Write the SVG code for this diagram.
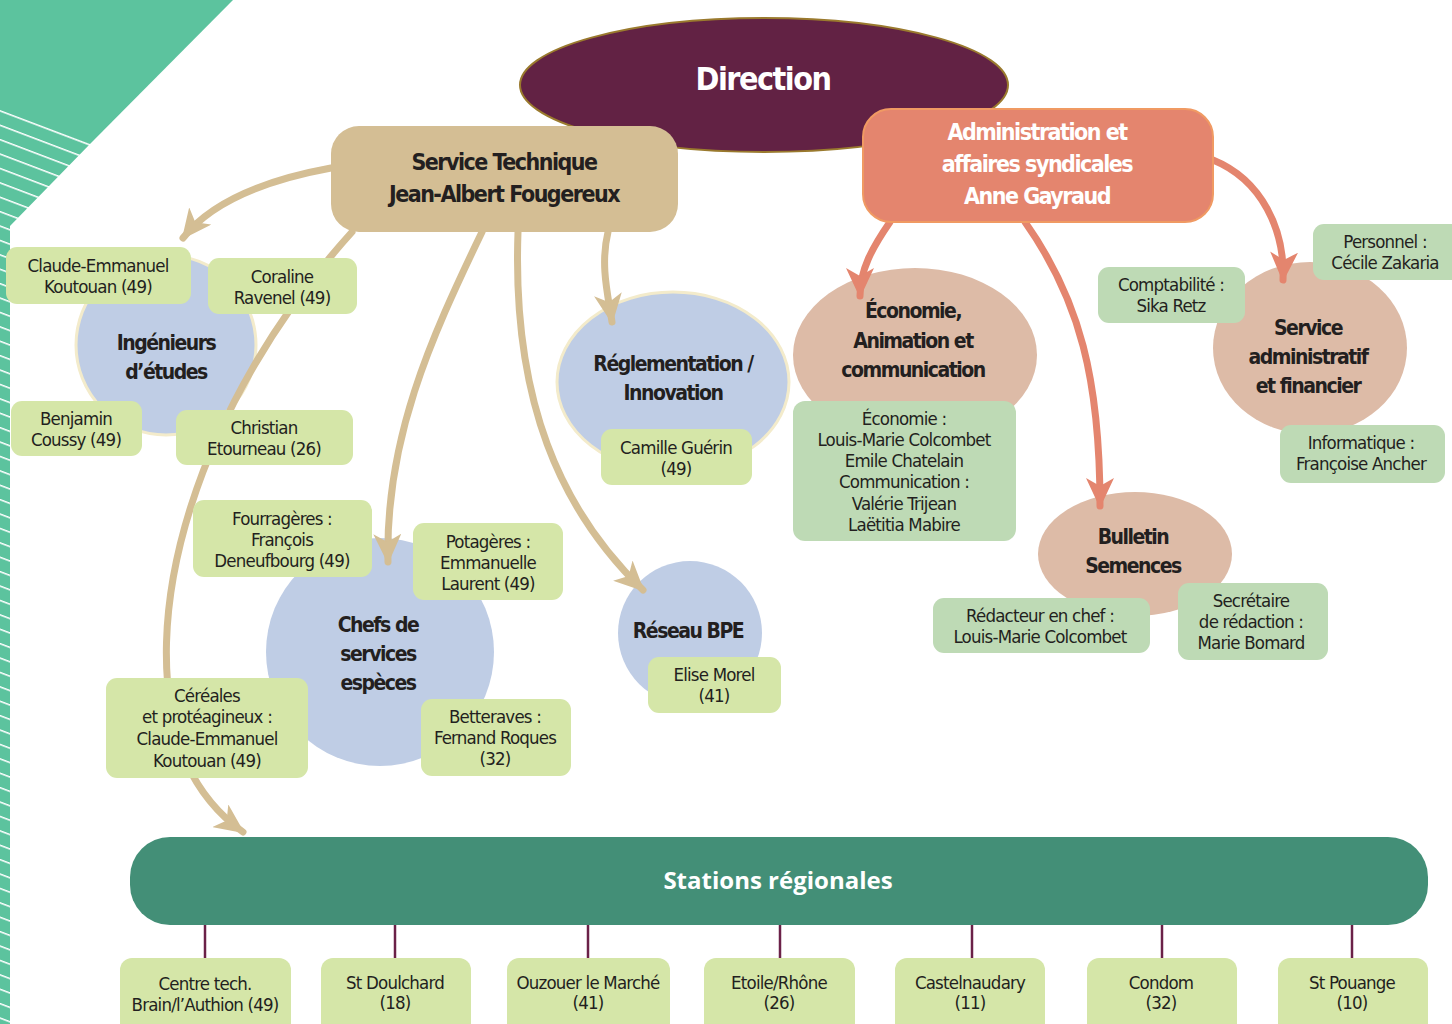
<svg xmlns="http://www.w3.org/2000/svg" width="1452" height="1024" viewBox="0 0 1452 1024">
<style>
text{font-family:'Liberation Sans Narrow','DejaVu Sans Condensed','Roboto',sans-serif;text-anchor:middle;fill:#231F20}
.lbl{font-size:18.5px;letter-spacing:-0.8px}
.ttl{font-size:21px;font-weight:bold;letter-spacing:-1.5px}
.hd{font-size:23px;font-weight:bold;letter-spacing:-1.5px}
.w{fill:#FFFFFF}
.lg{fill:#D5E6A8}
.dg{fill:#BEDAB5}
.blue{fill:#BFCDE5}
.pink{fill:#DDBBA7}
.tan{fill:none;stroke:#D4BE94;stroke-width:7;stroke-linecap:round}
.sal{fill:none;stroke:#E4856E;stroke-width:7;stroke-linecap:round}
.stn{stroke:#6B2148;stroke-width:2.5}
</style>
<defs>
<pattern id="stripes" patternUnits="userSpaceOnUse" width="200" height="14.4" patternTransform="translate(0,110) skewY(20.8)">
<rect width="200" height="14.4" fill="#5CC39E"/>
<rect width="200" height="1.6" fill="#FFFFFF"/>
</pattern>
<marker id="ah-tan" markerUnits="userSpaceOnUse" viewBox="0 0 30 28" markerWidth="30" markerHeight="28" refX="28" refY="14" orient="auto"><path d="M0,0 L30,14 L0,28 L8,14 z" fill="#D4BE94"/></marker>
<marker id="ah-sal" markerUnits="userSpaceOnUse" viewBox="0 0 30 28" markerWidth="30" markerHeight="28" refX="28" refY="14" orient="auto"><path d="M0,0 L30,14 L0,28 L8,14 z" fill="#E4856E"/></marker>
</defs>
<rect width="1452" height="1024" fill="#FFFFFF"/>
<g id="decoration">
<polygon points="0,0 233,0 90,144 0,110" fill="#5CC39E"/>
<polygon points="0,110 90,144 10,226 10,1024 0,1024" fill="url(#stripes)"/>
</g>
<g id="direction">
<ellipse cx="764" cy="85" rx="244" ry="67" fill="#622244" stroke="#9A7A2E" stroke-width="2"/>
<text x="763" y="90" class="w" style="font-size:32px;font-weight:bold;letter-spacing:-1.5px">Direction</text>
</g>
<g id="ingenieurs"><circle cx="166" cy="345" r="90" class="blue" stroke="#F3EBCB" stroke-width="3"/>
<text class="ttl" x="166" y="350">Ingénieurs</text><text class="ttl" x="166" y="379">d’études</text></g>
<g id="reglementation"><ellipse cx="673" cy="382" rx="116" ry="90" class="blue" stroke="#F3EBCB" stroke-width="3"/>
<text class="ttl" x="673" y="371">Réglementation /</text><text class="ttl" x="673" y="400">Innovation</text></g>
<g id="chefs"><circle cx="380" cy="652" r="114" class="blue"/>
<text class="ttl" x="378" y="632">Chefs de</text><text class="ttl" x="378" y="661">services</text><text class="ttl" x="378" y="690">espèces</text></g>
<g id="reseau"><circle cx="690" cy="633" r="72" class="blue"/>
<text class="ttl" x="688" y="638">Réseau BPE</text></g>
<g id="economie"><ellipse cx="915" cy="355" rx="122" ry="87" class="pink"/>
<text class="ttl" x="913" y="318">Économie,</text><text class="ttl" x="913" y="348">Animation et</text><text class="ttl" x="913" y="377">communication</text></g>
<g id="service-admin"><ellipse cx="1310" cy="348" rx="97" ry="86" class="pink"/>
<text class="ttl" x="1308" y="335">Service</text><text class="ttl" x="1308" y="364">administratif</text><text class="ttl" x="1308" y="393">et financier</text></g>
<g id="bulletin"><ellipse cx="1135" cy="554" rx="97" ry="62" class="pink"/>
<text class="ttl" x="1133" y="544">Bulletin</text><text class="ttl" x="1133" y="573">Semences</text></g>
<g id="connectors">
<path class="tan" d="M331,168 Q222,188 183,238" marker-end="url(#ah-tan)"/>
<path class="tan" d="M352,232 C200,400 130,620 185,760 Q205,805 243,832" marker-end="url(#ah-tan)"/>
<path class="tan" d="M482,232 C430,340 385,440 388,562" marker-end="url(#ah-tan)"/>
<path class="tan" d="M518,232 C512,400 560,510 643,590" marker-end="url(#ah-tan)"/>
<path class="tan" d="M608,232 C600,265 608,295 612,322" marker-end="url(#ah-tan)"/>
<path class="sal" d="M890,222 C872,248 860,270 860,296" marker-end="url(#ah-sal)"/>
<path class="sal" d="M1025,222 C1080,300 1100,380 1100,506" marker-end="url(#ah-sal)"/>
<path class="sal" d="M1213,160 C1262,180 1285,230 1283,280" marker-end="url(#ah-sal)"/>
<line class="stn" x1="205" y1="920" x2="205" y2="960"/>
<line class="stn" x1="395" y1="920" x2="395" y2="960"/>
<line class="stn" x1="588" y1="920" x2="588" y2="960"/>
<line class="stn" x1="780" y1="920" x2="780" y2="960"/>
<line class="stn" x1="972" y1="920" x2="972" y2="960"/>
<line class="stn" x1="1162" y1="920" x2="1162" y2="960"/>
<line class="stn" x1="1352" y1="920" x2="1352" y2="960"/>
</g>
<g id="service-technique"><rect x="331" y="126" width="347" height="106" rx="28" fill="#D4BE94"/>
<text class="hd" x="504" y="170">Service Technique</text><text class="hd" x="504" y="202">Jean-Albert Fougereux</text></g>
<g id="administration"><rect x="863" y="109" width="350" height="113" rx="28" fill="#E4856E" stroke="#F09A63" stroke-width="2"/>
<text class="hd w" x="1037" y="140">Administration et</text><text class="hd w" x="1037" y="172">affaires syndicales</text><text class="hd w" x="1037" y="204">Anne Gayraud</text></g>
<g id="claude"><rect x="6" y="247" width="185" height="57" rx="11" class="lg"/><text class="lbl" x="98" y="272">Claude-Emmanuel</text><text class="lbl" x="98" y="293">Koutouan (49)</text></g>
<g id="coraline"><rect x="208" y="258" width="149" height="56" rx="11" class="lg"/><text class="lbl" x="282" y="283">Coraline</text><text class="lbl" x="282" y="304">Ravenel (49)</text></g>
<g id="benjamin"><rect x="11" y="401" width="131" height="55" rx="11" class="lg"/><text class="lbl" x="76" y="425">Benjamin</text><text class="lbl" x="76" y="446">Coussy (49)</text></g>
<g id="christian"><rect x="176" y="410" width="177" height="55" rx="11" class="lg"/><text class="lbl" x="264" y="434">Christian</text><text class="lbl" x="264" y="455">Etourneau (26)</text></g>
<g id="camille"><rect x="601" y="429" width="151" height="56" rx="11" class="lg"/><text class="lbl" x="676" y="454">Camille Guérin</text><text class="lbl" x="676" y="475">(49)</text></g>
<g id="fourrageres"><rect x="193" y="500" width="179" height="77" rx="11" class="lg"/><text class="lbl" x="282" y="525">Fourragères :</text><text class="lbl" x="282" y="546">François</text><text class="lbl" x="282" y="567">Deneufbourg (49)</text></g>
<g id="potageres"><rect x="413" y="523" width="150" height="77" rx="11" class="lg"/><text class="lbl" x="488" y="548">Potagères :</text><text class="lbl" x="488" y="569">Emmanuelle</text><text class="lbl" x="488" y="590">Laurent (49)</text></g>
<g id="cereales"><rect x="106" y="678" width="202" height="100" rx="11" class="lg"/><text class="lbl" x="207" y="702">Céréales</text><text class="lbl" x="207" y="723">et protéagineux :</text><text class="lbl" x="207" y="745">Claude-Emmanuel</text><text class="lbl" x="207" y="767">Koutouan (49)</text></g>
<g id="betteraves"><rect x="421" y="699" width="150" height="77" rx="11" class="lg"/><text class="lbl" x="495" y="723">Betteraves :</text><text class="lbl" x="495" y="744">Fernand Roques</text><text class="lbl" x="495" y="765">(32)</text></g>
<g id="elise"><rect x="648" y="657" width="133" height="56" rx="11" class="lg"/><text class="lbl" x="714" y="681">Elise Morel</text><text class="lbl" x="714" y="702">(41)</text></g>
<g id="economie-staff"><rect x="793" y="401" width="223" height="140" rx="12" class="dg"/>
<text class="lbl" x="904" y="425">Économie :</text><text class="lbl" x="904" y="446">Louis-Marie Colcombet</text><text class="lbl" x="904" y="467">Emile Chatelain</text><text class="lbl" x="904" y="488">Communication :</text><text class="lbl" x="904" y="510">Valérie Trijean</text><text class="lbl" x="904" y="531">Laëtitia Mabire</text></g>
<g id="comptabilite"><rect x="1098" y="267" width="147" height="56" rx="11" class="dg"/><text class="lbl" x="1171" y="291">Comptabilité :</text><text class="lbl" x="1171" y="312">Sika Retz</text></g>
<g id="personnel"><rect x="1313" y="224" width="150" height="56" rx="11" class="dg"/><text class="lbl" x="1385" y="248">Personnel :</text><text class="lbl" x="1385" y="269">Cécile Zakaria</text></g>
<g id="informatique"><rect x="1280" y="425" width="165" height="58" rx="11" class="dg"/><text class="lbl" x="1361" y="449">Informatique :</text><text class="lbl" x="1361" y="470">Françoise Ancher</text></g>
<g id="redacteur"><rect x="933" y="598" width="217" height="55" rx="11" class="dg"/><text class="lbl" x="1040" y="622">Rédacteur en chef :</text><text class="lbl" x="1040" y="643">Louis-Marie Colcombet</text></g>
<g id="secretaire"><rect x="1178" y="583" width="150" height="77" rx="11" class="dg"/><text class="lbl" x="1251" y="607">Secrétaire</text><text class="lbl" x="1251" y="628">de rédaction :</text><text class="lbl" x="1251" y="649">Marie Bomard</text></g>
<g id="stations"><rect x="130" y="837" width="1298" height="88" rx="40" fill="#438F77"/>
<text x="778" y="889" style="font-family:'Open Sans','Liberation Sans',sans-serif;font-size:24px;font-weight:bold;fill:#FFFFFF">Stations régionales</text></g>
<g id="st-centre"><rect x="120" y="958" width="171" height="80" rx="12" class="lg"/><text class="lbl" x="205" y="990">Centre tech.</text><text class="lbl" x="205" y="1011">Brain/l’Authion (49)</text></g>
<g id="st-doulchard"><rect x="321" y="958" width="150" height="80" rx="12" class="lg"/><text class="lbl" x="395" y="989">St Doulchard</text><text class="lbl" x="395" y="1009">(18)</text></g>
<g id="st-ouzouer"><rect x="507" y="958" width="163" height="80" rx="12" class="lg"/><text class="lbl" x="588" y="989">Ouzouer le Marché</text><text class="lbl" x="588" y="1009">(41)</text></g>
<g id="st-etoile"><rect x="704" y="958" width="151" height="80" rx="12" class="lg"/><text class="lbl" x="779" y="989">Etoile/Rhône</text><text class="lbl" x="779" y="1009">(26)</text></g>
<g id="st-castelnaudary"><rect x="895" y="958" width="150" height="80" rx="12" class="lg"/><text class="lbl" x="970" y="989">Castelnaudary</text><text class="lbl" x="970" y="1009">(11)</text></g>
<g id="st-condom"><rect x="1087" y="958" width="150" height="80" rx="12" class="lg"/><text class="lbl" x="1161" y="989">Condom</text><text class="lbl" x="1161" y="1009">(32)</text></g>
<g id="st-pouange"><rect x="1278" y="958" width="150" height="80" rx="12" class="lg"/><text class="lbl" x="1352" y="989">St Pouange</text><text class="lbl" x="1352" y="1009">(10)</text></g>
</svg>
